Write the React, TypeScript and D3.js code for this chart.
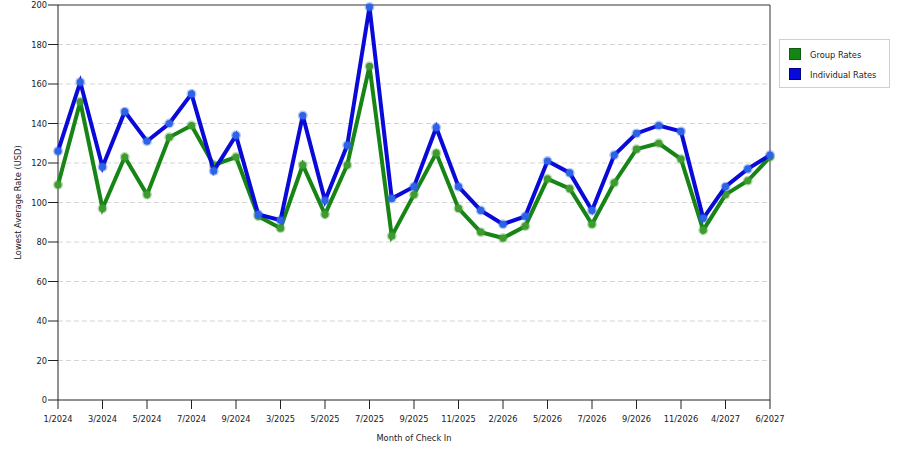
import React from "react";
import * as d3 from "d3";

const categories: string[] = [
  "1/2024", "2/2024", "3/2024", "4/2024", "5/2024", "6/2024", "7/2024", "8/2024", "9/2024", "10/2024",
  "3/2025", "4/2025", "5/2025", "6/2025", "7/2025", "8/2025", "9/2025", "10/2025", "11/2025", "12/2025",
  "2/2026", "4/2026", "5/2026", "6/2026", "7/2026", "8/2026", "9/2026", "10/2026", "11/2026", "12/2026",
  "4/2027", "5/2027", "6/2027",
];

const groupRates: number[] = [
  109, 151, 97, 123, 104, 133, 139, 119, 123, 93,
  87, 119, 94, 119, 169, 83, 104, 125, 97, 85,
  82, 88, 112, 107, 89, 110, 127, 130, 122, 86,
  104, 111, 123,
];

const individualRates: number[] = [
  126, 161, 118, 146, 131, 140, 155, 116, 134, 94,
  91, 144, 101, 129, 199, 102, 108, 138, 108, 96,
  89, 93, 121, 115, 96, 124, 135, 139, 136, 92,
  108, 117, 124,
];

const tickLabels: string[] = categories.filter((_, i) => i % 2 === 0);
const yTicks: number[] = [0, 20, 40, 60, 80, 100, 120, 140, 160, 180, 200];

const seriesNames = ["Group Rates", "Individual Rates"];

const W = 900;
const H = 450;
const left = 58;
const right = 770;
const top = 5;
const bottom = 400;
const font = "Verdana, 'DejaVu Sans', sans-serif";
const fs = 8.3;

export default function App() {
  const x = d3.scalePoint<string>().domain(categories).range([left, right]);
  const y = d3.scaleLinear().domain([0, 200]).range([bottom, top]);
  const line = d3
    .line<number>()
    .x((_, i) => x(categories[i]) as number)
    .y((d) => y(d));

  const series = [
    { name: seriesNames[0], values: groupRates, color: "#168516", marker: "#3f9a30", dark: "#0d5e0d" },
    { name: seriesNames[1], values: individualRates, color: "#0a0ad8", marker: "#2d63e6", dark: "#00008a" },
  ];

  return (
    <svg
      width={W}
      height={H}
      style={{ position: "absolute", left: 0, top: 0, background: "#fff" }}
      fontFamily={font}
      fontSize={fs}
    >
      <rect x={0} y={0} width={W} height={H} fill="#fff" />
      {/* gridlines */}
      {yTicks
        .filter((t) => t > 0 && t < 200)
        .map((t) => (
          <line
            key={"g" + t}
            x1={left}
            x2={right}
            y1={y(t)}
            y2={y(t)}
            stroke="#d4d4d4"
            strokeWidth={1}
            strokeDasharray="5,3"
          />
        ))}
      {/* frame */}
      <line x1={left} x2={right} y1={top} y2={top} stroke="#333" strokeWidth={1} />
      <line x1={right} x2={right} y1={top} y2={bottom} stroke="#333" strokeWidth={1} />
      {/* y axis */}
      <line x1={left} x2={left} y1={top} y2={bottom} stroke="#222" strokeWidth={1} />
      {yTicks.map((t) => (
        <g key={"y" + t}>
          <line x1={left - 10} x2={left} y1={y(t)} y2={y(t)} stroke="#222" />
          <text x={left - 11} y={y(t)} textAnchor="end" dominantBaseline="central" fill="#222">
            {t}
          </text>
        </g>
      ))}
      {/* x axis */}
      <line x1={left} x2={right} y1={bottom} y2={bottom} stroke="#222" strokeWidth={1} />
      {tickLabels.map((c) => (
        <g key={"x" + c}>
          <line x1={x(c)} x2={x(c)} y1={bottom} y2={bottom + 9} stroke="#222" />
          <text x={x(c)} y={419} textAnchor="middle" dominantBaseline="central" fill="#222">
            {c}
          </text>
        </g>
      ))}
      <text x={(left + right) / 2} y={438} textAnchor="middle" dominantBaseline="central" fill="#222">
        Month of Check In
      </text>
      <text
        transform={`translate(18,${(top + bottom) / 2}) rotate(-90)`}
        textAnchor="middle"
        dominantBaseline="central"
        fill="#222"
      >
        Lowest Average Rate (USD)
      </text>
      {/* series */}
      {series.map((s) => (
        <g key={s.name}>
          <path d={line(s.values) || ""} fill="none" stroke={s.color} strokeWidth={4} />
          {s.values.map((v, i) => (
            <g key={i}>
              <circle cx={x(categories[i])} cy={y(v)} r={5} fill={s.marker} opacity={0.35} />
              <circle cx={x(categories[i])} cy={y(v)} r={3.6} fill={s.marker} />
            </g>
          ))}
        </g>
      ))}
      {/* legend */}
      <rect x={779.5} y={39.5} width={110} height={48} fill="#fff" stroke="#cfcfcf" />
      {series.map((s, i) => (
        <g key={"l" + s.name}>
          <rect x={789.5} y={48.5 + i * 20} width={11} height={11} fill={s.color} stroke={s.dark} />
          <text x={810} y={54.5 + i * 20} dominantBaseline="central" fill="#222">
            {s.name}
          </text>
        </g>
      ))}
    </svg>
  );
}
